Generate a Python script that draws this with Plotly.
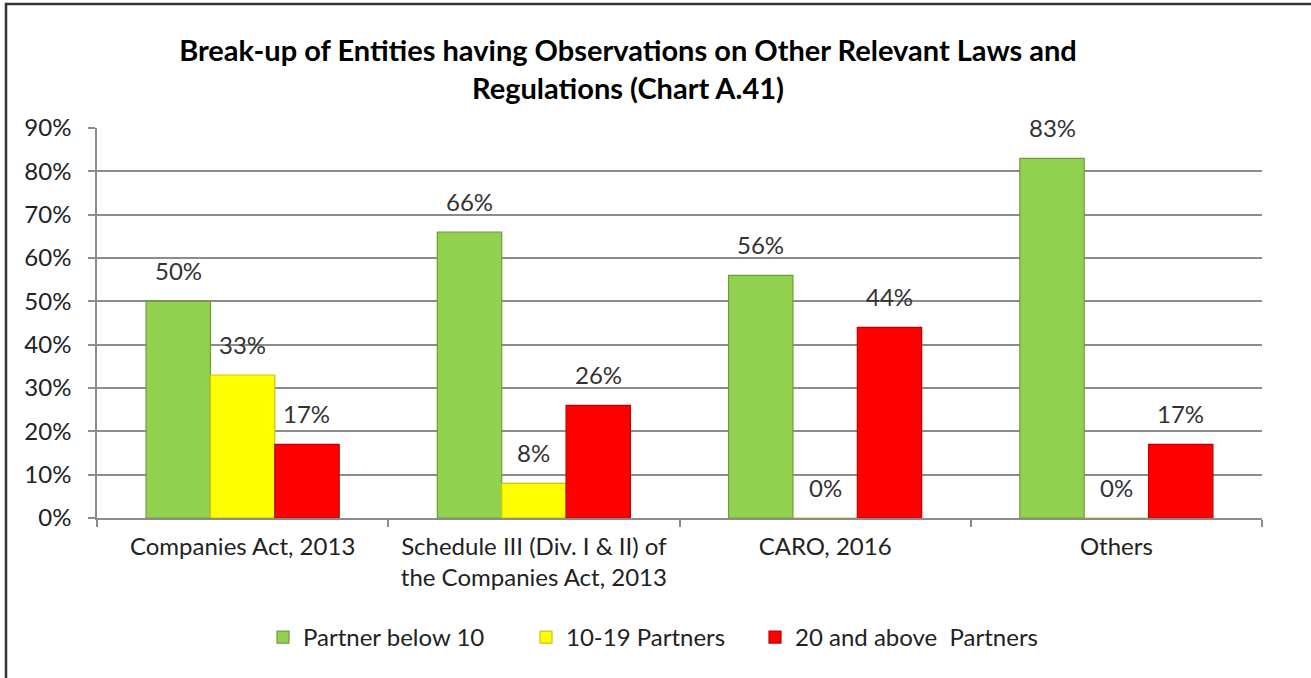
import plotly.graph_objects as go

categories = [
    "Companies Act, 2013",
    "Schedule III (Div. I & II) of<br>the Companies Act, 2013",
    "CARO, 2016",
    "Others",
]
series_names = ["Partner below 10", "10-19 Partners", "20 and above  Partners"]
below_10 = [50, 66, 56, 83]
partners_10_19 = [33, 8, 0, 0]
above_20 = [17, 26, 44, 17]
y_ticks = [0, 10, 20, 30, 40, 50, 60, 70, 80, 90]

fills = ["#92D050", "#FFFF00", "#FF0000"]
edges = ["#6E9E3A", "#C8C800", "#C00000"]

FONT = "Lato, sans-serif"
W, H = 1311, 678
L, R, T, B = 97, 49, 128, 160
plot_w = W - L - R
plot_h = H - T - B
BARGAP = 0.337
bar_px = plot_w / len(categories) * (1 - BARGAP) / len(series_names)

# left edge (px) of each legend entry along the bottom row
legend_left_px = [263, 526, 755]
legend_ids = ["legend", "legend2", "legend3"]


def px_x(p):
    return (p - L) / plot_w


def px_y(p):
    return (H - B - p) / plot_h


fig = go.Figure()
all_series = [below_10, partners_10_19, above_20]
for name, vals, fc, ec, lid in zip(series_names, all_series, fills, edges, legend_ids):
    fig.add_trace(go.Bar(
        x=categories,
        y=vals,
        name=name,
        legend=lid,
        marker=dict(color=fc, line=dict(color=ec, width=1.2)),
        hovertemplate="%{y}%<extra>" + name + "</extra>",
    ))

# value labels above each bar
annotations = []
for j, vals in enumerate(all_series):
    for cat, v in zip(categories, vals):
        annotations.append(dict(
            x=cat, y=v, xref="x", yref="y",
            text=f"{v}%", showarrow=False,
            xanchor="center", yanchor="bottom",
            xshift=(j - 1) * bar_px, yshift=14,
            font=dict(family=FONT, size=24, color="#333333"),
        ))

# outer frame (left and top edges are visible)
fig.add_shape(type="rect", xref="paper", yref="paper",
              x0=px_x(6), x1=px_x(W + 20), y0=px_y(H + 20), y1=px_y(4),
              line=dict(color="#333333", width=2.5), fillcolor="rgba(0,0,0,0)",
              layer="below")

legend_style = dict(
    orientation="h",
    xanchor="left",
    y=px_y(615), yanchor="top",
    font=dict(family=FONT, size=24, color="#222222"),
    bgcolor="rgba(0,0,0,0)",
)

fig.update_layout(
    width=W, height=H,
    margin=dict(l=L, r=R, t=T, b=B),
    paper_bgcolor="white",
    plot_bgcolor="white",
    barmode="group",
    bargap=BARGAP,
    bargroupgap=0,
    annotations=annotations,
    title=dict(
        text="<b>Break-up of Entities having Observations on Other Relevant Laws and<br>Regulations (Chart A.41)</b>",
        x=px_x(628), xanchor="center", xref="paper",
        y=1 - 61 / H, yanchor="top",
        font=dict(family=FONT, size=29, color="#000000"),
    ),
    font=dict(family=FONT, size=24, color="#222222"),
    showlegend=True,
)
for lid, left in zip(legend_ids, legend_left_px):
    fig.update_layout({lid: dict(legend_style, x=px_x(left))})

fig.update_xaxes(
    showline=True, linecolor="#8C8C8C", linewidth=1.5,
    ticks="outside", tickson="boundaries", ticklen=7, tickcolor="#8C8C8C", tickwidth=1.5,
    ticklabelstandoff=6,
    tickfont=dict(family=FONT, size=24, color="#222222"),
    showgrid=False,
)
fig.update_yaxes(
    range=[0, 90],
    tickvals=y_ticks,
    ticktext=[f"{v}%" for v in y_ticks],
    showline=True, linecolor="#8C8C8C", linewidth=1.5,
    ticks="outside", ticklen=7, tickcolor="#8C8C8C", tickwidth=1.5,
    ticklabelstandoff=12,
    showgrid=True, gridcolor="#8C8C8C", gridwidth=1.5,
    tickfont=dict(family=FONT, size=24, color="#222222"),
    zeroline=False,
)

fig.write_html("out.html")
